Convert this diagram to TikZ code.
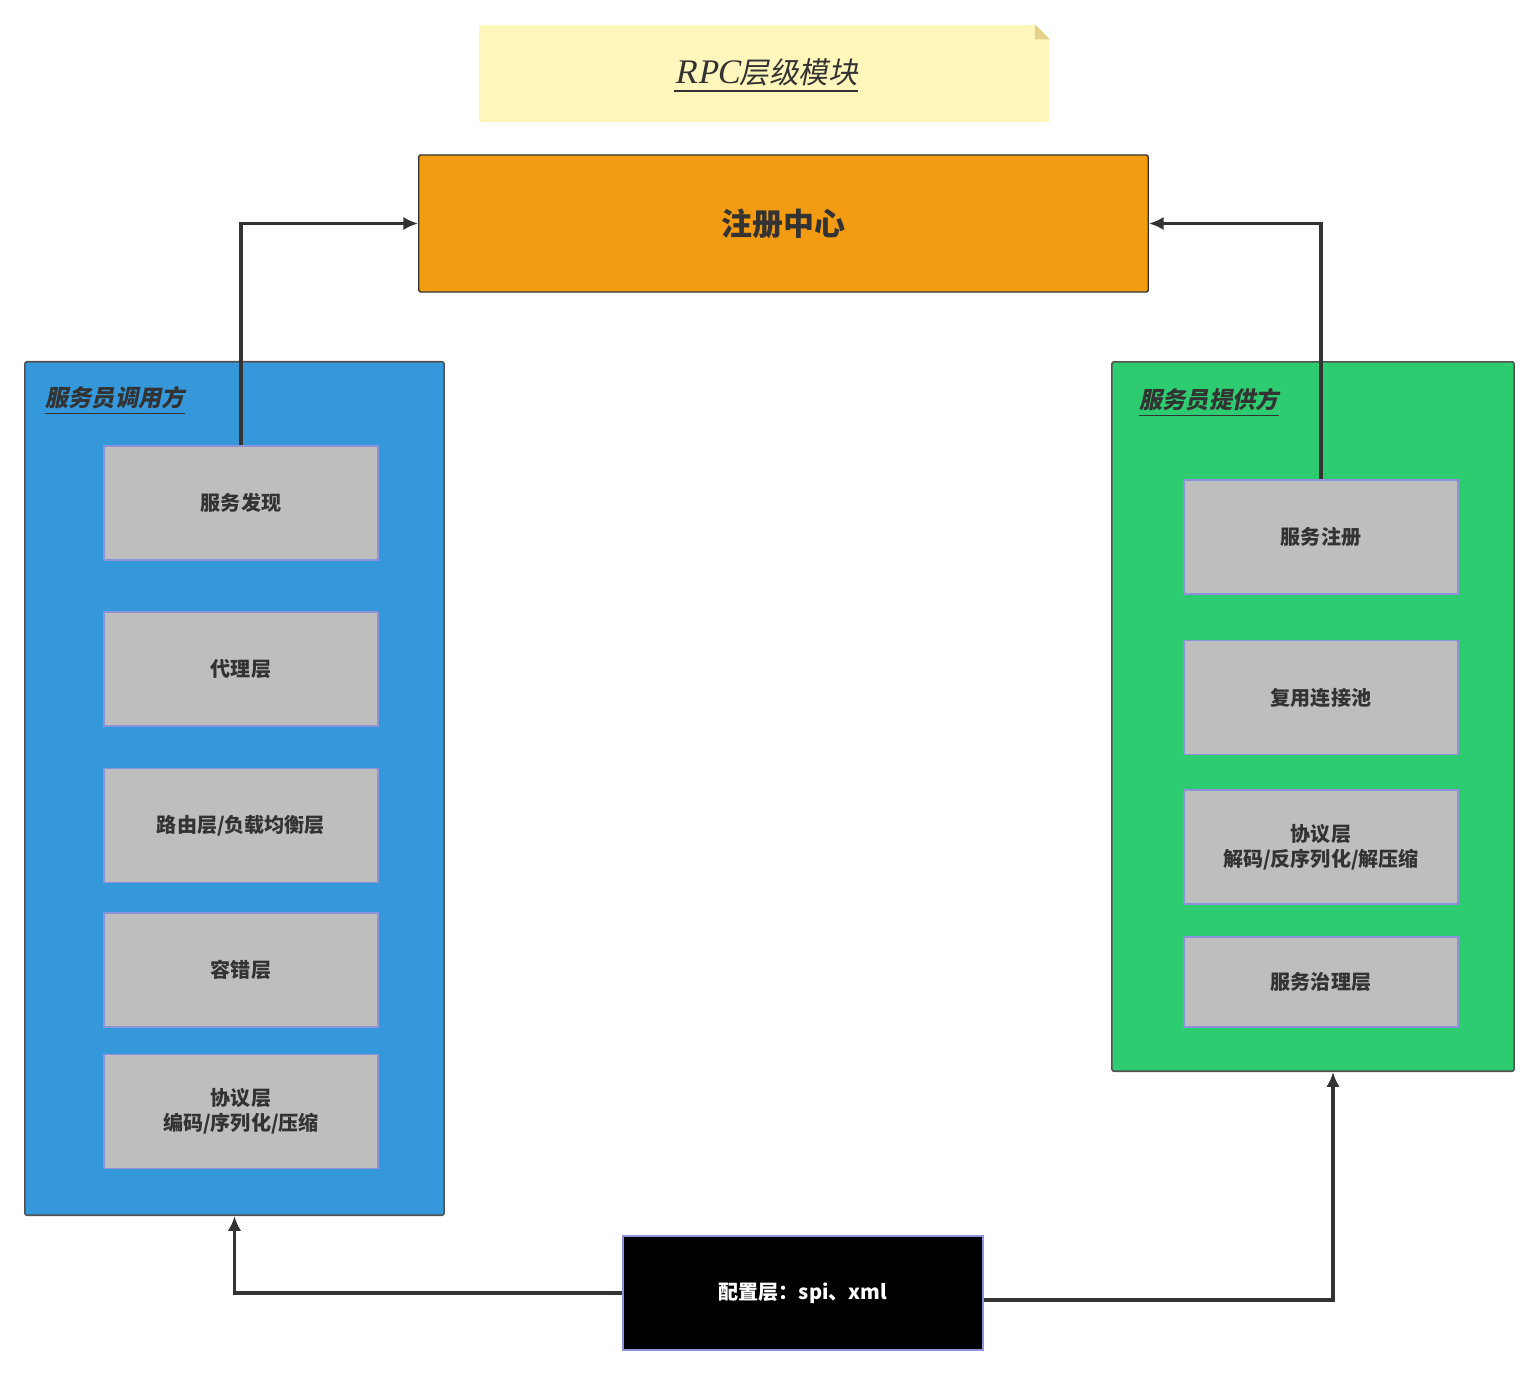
\documentclass[tikz,border=0pt]{standalone}
\usepackage{fontspec}
\setmainfont{Noto Sans CJK SC}
\newfontfamily\slantfont{Noto Sans CJK SC}[FakeSlant=0.2,BoldFeatures={FakeSlant=0.2}]
\newfontfamily\serifit{Liberation Serif}[FakeSlant=0.2]
\usetikzlibrary{arrows.meta}
\definecolor{callerblue}{HTML}{3598DB}
\definecolor{providergreen}{HTML}{2ECC71}
\definecolor{registryorange}{HTML}{F39C12}
\definecolor{layergrey}{HTML}{BEBEBE}
\definecolor{layeredge}{HTML}{8E92D8}
\definecolor{notebg}{HTML}{FFF6BC}
\definecolor{notefold}{HTML}{E4D18C}
\definecolor{ink}{HTML}{333333}
\begin{document}
\begin{tikzpicture}[x=0.01cm, y=-0.01cm,
    layer/.style={rectangle, draw=layeredge, line width=0.5pt, fill=layergrey, text=ink, minimum width=2.74cm, minimum height=1.14cm, align=center, font=\fontsize{5.7}{7.1}\selectfont\bfseries},
    group/.style={rectangle, draw=ink!85, line width=0.45pt, rounded corners=0.6pt},
    grouplabel/.style={anchor=west, text=ink, font=\slantfont\fontsize{6.6}{7}\selectfont\bfseries},
    line/.style={draw=ink, line width=0.9pt, -{Latex[length=4.2pt,width=3.8pt]}}
]
    \useasboundingbox (0,0) rectangle (1539,1376);

    % title note
    \node [rectangle, fill=notebg, minimum width=5.70cm, minimum height=0.97cm, text=ink] (title) at (764,73.5) {};
    \node [text=ink] (titletext) at (766,76)
        {\underline{{\serifit\fontsize{9.8}{10}\selectfont RPC}{\slantfont\fontsize{8.4}{10}\selectfont 层级模块}}};
    \fill [white] ([xshift=-0.15cm]title.north east) -- (title.north east) -- ([yshift=-0.15cm]title.north east) -- cycle;
    \fill [notefold] ([xshift=-0.15cm]title.north east) -- ([xshift=-0.15cm,yshift=-0.15cm]title.north east) -- ([yshift=-0.15cm]title.north east) -- cycle;

    % registry
    \node [rectangle, draw=ink, line width=0.4pt, rounded corners=0.6pt, fill=registryorange, minimum width=7.29cm, minimum height=1.37cm, text=ink, font=\fontsize{8.8}{10}\selectfont\bfseries] (registry) at (783.5,223.5) {注册中心};

    % caller side
    \node [group, fill=callerblue, minimum width=4.19cm, minimum height=8.53cm] (caller) at (234.5,788.5) {};
    \node [grouplabel] (callerlabel) at (33,401) {\underline{服务员调用方}};
    \node [layer] (discover) at (241,503) {服务发现};
    \node [layer] (proxy) at (241,669) {代理层};
    \node [layer] (route) at (241,825.5) {路由层/负载均衡层};
    \node [layer] (fault) at (241,970) {容错层};
    \node [layer] (encode) at (241,1111.5) {协议层\\编码/序列化/压缩};

    % provider side
    \node [group, fill=providergreen, minimum width=4.02cm, minimum height=7.09cm] (provider) at (1313,716.5) {};
    \node [grouplabel] (providerlabel) at (1127,403) {\underline{服务员提供方}};
    \node [layer] (register) at (1321,537) {服务注册};
    \node [layer] (pool) at (1321,697.5) {复用连接池};
    \node [layer] (decode) at (1321,847) {协议层\\解码/反序列化/解压缩};
    \node [layer, minimum height=0.90cm] (govern) at (1321,982) {服务治理层};

    % config
    \node [rectangle, draw=layeredge, line width=0.5pt, fill=black, text=white, minimum width=3.60cm, minimum height=1.14cm, font=\fontsize{5.7}{7}\selectfont\bfseries] (config) at (803,1293) {配置层：spi、xml};

    \draw [line] (discover.north) |- (registry.west);
    \draw [line] (register.north) |- (registry.east);
    \draw [line] (config.west) -| (caller.south);
    \draw [line] ([yshift=-0.07cm]config.east) -| ([xshift=0.20cm]provider.south);
\end{tikzpicture}
\end{document}
